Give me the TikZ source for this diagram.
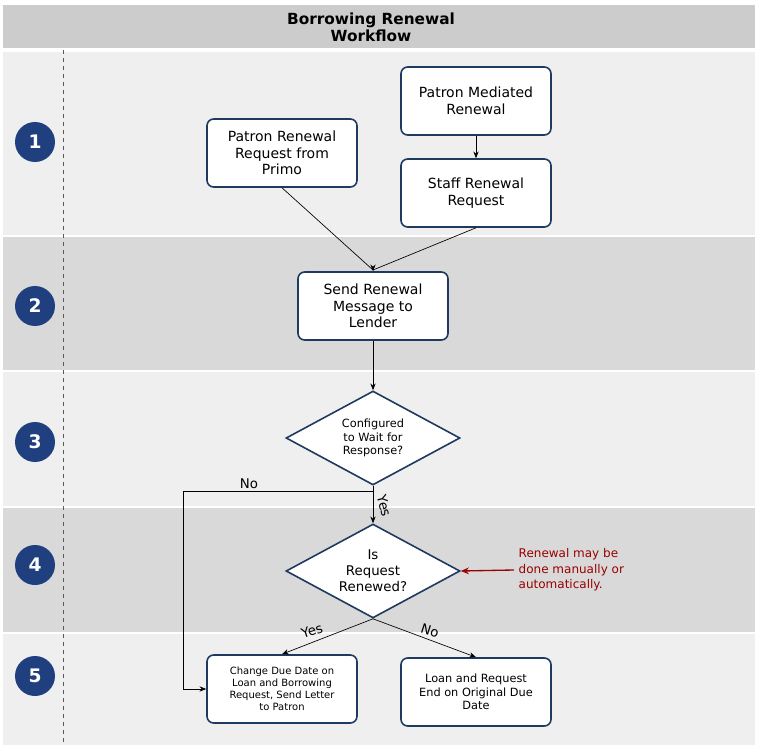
\documentclass[tikz,border=0pt]{standalone}
\usepackage{fontspec}
\setmainfont{DejaVu Sans}
\usetikzlibrary{shapes.geometric,arrows.meta}
\definecolor{navy}{HTML}{1F3F7F}
\definecolor{bord}{HTML}{1F3A60}
\definecolor{light}{HTML}{EFEFEF}
\definecolor{dark}{HTML}{D9D9D9}
\definecolor{head}{HTML}{CCCCCC}
\definecolor{dred}{HTML}{9B0000}
\begin{document}
\begin{tikzpicture}[x=0.75pt,y=-0.75pt,
  box/.style={draw=bord,line width=1.2pt,fill=white,rounded corners=5pt,minimum width=150*0.75pt,minimum height=68*0.75pt,align=center,font=\fontsize{10.5}{12.5}\selectfont,inner sep=1pt},
  dia/.style={draw=bord,line width=1.2pt,fill=white,diamond,aspect=1.85,minimum width=174*0.75pt,minimum height=94*0.75pt,align=center,inner sep=0pt,font=\fontsize{8.5}{10}\selectfont},
  num/.style={circle,fill=navy,minimum size=40*0.75pt,inner sep=0pt,text=white,font=\bfseries\fontsize{14}{14}\selectfont},
  arr/.style={-{Stealth[length=5pt,width=4pt]},line width=0.5pt},
  lbl/.style={font=\fontsize{10}{12}\selectfont}]
\useasboundingbox (0,0) rectangle (758,749);
\fill[white] (0,0) rectangle (758,749);
\fill[head] (3,5) rectangle (755,48);
\node[font=\bfseries\fontsize{11.5}{13}\selectfont,align=center] (title) at (371,27) {Borrowing Renewal\\Workflow};
\fill[light] (3,52) rectangle (755,235);
\fill[dark] (3,237) rectangle (755,370);
\fill[light] (3,372) rectangle (755,506);
\fill[dark] (3,508) rectangle (755,632);
\fill[light] (3,634) rectangle (755,745);
\draw[dashed,gray!70!black,line width=0.6pt] (63,50) -- (63,745);
\node[num] (n1) at (35,142) {1};
\node[num] (n2) at (35,306) {2};
\node[num] (n3) at (35,442) {3};
\node[num] (n4) at (35,565) {4};
\node[num] (n5) at (35,676) {5};
\node[box] (primo) at (282,153) {Patron Renewal\\Request from\\Primo};
\node[box] (med) at (476,101) {Patron Mediated\\Renewal};
\node[box] (staff) at (476,193) {Staff Renewal\\Request};
\node[box] (send) at (373,306) {Send Renewal\\Message to\\Lender};
\node[dia] (d1) at (373,438) {Configured\\to Wait for\\Response?};
\node[dia,font=\fontsize{10}{12}\selectfont] (d2) at (373,571) {Is\\Request\\Renewed?};
\node[box,font=\fontsize{7.5}{9}\selectfont] (chg) at (282,689) {Change Due Date on\\Loan and Borrowing\\Request, Send Letter\\to Patron};
\node[box,font=\fontsize{8.5}{10}\selectfont] (end) at (476,692) {Loan and Request\\End on Original Due\\Date};
\coordinate (m) at (373,270);
\draw[line width=0.5pt] (primo.south) -- (m);
\draw[line width=0.5pt] (staff.south) -- (m);
\draw[arr] (m) -- (send.north);
\draw[arr] (med) -- (staff);
\draw[arr] (send) -- (d1);
\draw[arr] (d1) -- (d2);
\node[lbl,rotate=-75] (yes1) at (384,506) {Yes};
\coordinate (c1) at (373,491);
\coordinate (c2) at (183,491);
\coordinate (c3) at (183,689);
\draw[arr] (c1) -- (c2) -- (c3) -- (chg.west);
\node[lbl] (no1) at (249,484) {No};
\draw[arr] (d2.south) -- (chg.north);
\draw[arr] (d2.south) -- (end.north);
\node[lbl,rotate=18] (yes2) at (312,631) {Yes};
\node[lbl,rotate=-18] (no2) at (430,631) {No};
\node[text=dred,align=left,anchor=west,font=\fontsize{9}{11.5}\selectfont] (note) at (514,570) {Renewal may be\\done manually or\\automatically.};
\draw[-{Stealth[length=6pt,width=5pt]},dred,line width=1pt] (note.west) -- (d2.east);
\end{tikzpicture}
\end{document}
